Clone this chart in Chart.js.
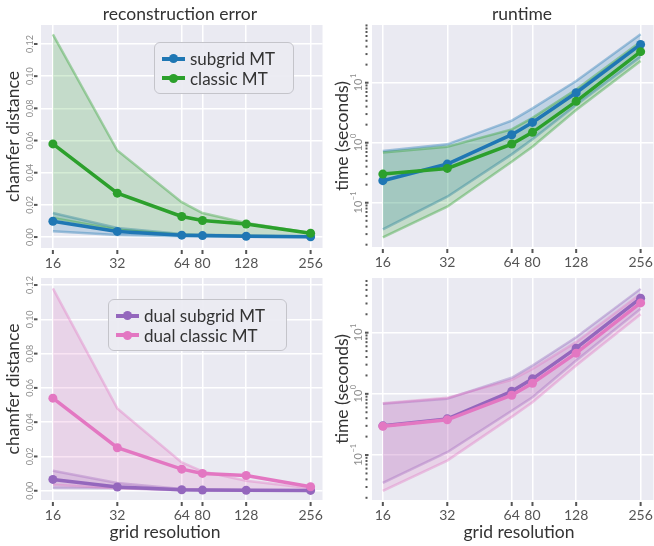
<!DOCTYPE html>
<html lang="en">
<head>
  <meta charset="UTF-8">
  <title>Subgrid vs classic MT</title>
  <script src="https://cdn.jsdelivr.net/npm/chart.js"></script>
  <style>
    body { margin: 0; background: #fff; font-family: Lato, sans-serif; }
    #fig { position: relative; width: 654px; height: 546px; overflow: hidden; }
    canvas { position: absolute; }
    .title { position: absolute; font-size: 17.5px; color: #333; transform: translate(-50%, -50%); white-space: nowrap; }
    .xlabel { position: absolute; font-size: 17.5px; color: #333; transform: translate(-50%, -50%); white-space: nowrap; }
    .legend { position: absolute; box-sizing: border-box; border: 1.5px solid #c4c4ca; border-radius: 6px;
              background: rgba(234, 234, 242, 0.92); padding: 6px 0 0 7px; }
    .legend .row { display: flex; align-items: center; height: 19.5px; font-size: 17px; color: #333; white-space: nowrap; }
    .legend .key { position: relative; width: 23px; height: 4px; margin-right: 5px; flex: none; }
    .legend .key span { position: absolute; left: 7px; top: -2.5px; width: 9px; height: 9px; border-radius: 50%; background: inherit; }
  </style>
</head>
<body>
  <div id="fig">
    <canvas id="tl" width="330" height="270" style="left:0;top:0"></canvas>
    <canvas id="tr" width="330" height="270" style="left:330px;top:0"></canvas>
    <canvas id="bl" width="330" height="276" style="left:0;top:270px"></canvas>
    <canvas id="br" width="330" height="276" style="left:330px;top:270px"></canvas>
    <div class="title" style="left:180px;top:13px">reconstruction error</div>
    <div class="title" style="left:522px;top:13px">runtime</div>
    <div class="xlabel" style="left:165px;top:531px">grid resolution</div>
    <div class="xlabel" style="left:519px;top:531px">grid resolution</div>
    <div class="legend" id="legTop" style="left:154px;top:42px;width:140px;height:52px"></div>
    <div class="legend" id="legBot" style="left:108px;top:299px;width:179px;height:52px"></div>
  </div>

  <script>
    const resolutions = [16, 32, 64, 80, 128, 256];

    // chamfer distance, top row
    const subgridErr   = [0.0098, 0.0035, 0.0012, 0.0009, 0.0005, 0.0002];
    const subgridErrHi = [0.0150, 0.0056, 0.0019, 0.0014, 0.0009, 0.0004];
    const subgridErrLo = [0.0036, 0.0013, 0.0005, 0.0004, 0.0002, 0.0001];
    const classicErr   = [0.0579, 0.0273, 0.0128, 0.0103, 0.0081, 0.0024];
    const classicErrHi = [0.1260, 0.0538, 0.0217, 0.0149, 0.0087, 0.0025];
    const classicErrLo = [0.0118, 0.0045, 0.0014, 0.0010, 0.0007, 0.0003];

    // runtime in seconds, top row
    const subgridTime   = [0.233, 0.441, 1.36, 2.18, 6.81, 43.5];
    const subgridTimeHi = [0.726, 0.94, 2.33, 3.73, 10.7, 63.9];
    const subgridTimeLo = [0.036, 0.126, 0.64, 1.14, 4.24, 27.1];
    const classicTime   = [0.300, 0.373, 0.95, 1.49, 4.89, 32.9];
    const classicTimeHi = [0.690, 0.86, 1.67, 2.6, 7.7, 48];
    const classicTimeLo = [0.0264, 0.0858, 0.48, 0.86, 3.5, 23];

    // chamfer distance, bottom row
    const dualSubgridErr   = [0.0066, 0.0022, 0.0006, 0.0004, 0.0003, 0.0002];
    const dualSubgridErrHi = [0.0117, 0.0045, 0.0010, 0.0007, 0.0005, 0.0003];
    const dualSubgridErrLo = [0.0017, 0.0014, 0.0003, 0.0002, 0.0001, 0.0001];
    const dualClassicErr   = [0.0540, 0.0251, 0.0126, 0.0101, 0.0089, 0.0023];
    const dualClassicErrHi = [0.1180, 0.0480, 0.0165, 0.0113, 0.0058, 0.0014];
    const dualClassicErrLo = [0.0035, 0.0015, 0.0006, 0.0004, 0.0003, 0.0002];

    // runtime in seconds, bottom row
    const dualSubgridTime   = [0.300, 0.390, 1.10, 1.76, 5.58, 36.6];
    const dualSubgridTimeHi = [0.687, 0.83, 1.83, 2.9, 8.4, 52];
    const dualSubgridTimeLo = [0.035, 0.111, 0.53, 0.88, 3.5, 24.5];
    const dualClassicTime   = [0.296, 0.376, 0.95, 1.49, 4.62, 30.7];
    const dualClassicTimeHi = [0.700, 0.86, 1.69, 2.56, 7.0, 43];
    const dualClassicTimeLo = [0.026, 0.081, 0.42, 0.73, 2.9, 20];

    const errTicks = [0, 0.02, 0.04, 0.06, 0.08, 0.10, 0.12];
    const timeTicks = [0.1, 1, 10];
    const minorSteps = [2, 3, 4, 5, 6, 7, 8, 9];

    const BLUE = '#1f77b4', GREEN = '#2ca02c', PURPLE = '#9467bd', PINK = '#e377c2';

    function rgba(hex, a) {
      const n = parseInt(hex.slice(1), 16);
      return `rgba(${n >> 16},${(n >> 8) & 255},${n & 255},${a})`;
    }
    const pts = arr => resolutions.map((x, i) => ({ x, y: arr[i] }));

    function band(color, hi, lo, order) {
      const edge = { borderColor: rgba(color, 0.38), borderWidth: 2.5, pointRadius: 0, order };
      return [
        Object.assign({ data: pts(hi), fill: '+1', backgroundColor: rgba(color, 0.2) }, edge),
        Object.assign({ data: pts(lo), fill: false }, edge)
      ];
    }
    function mean(color, arr, order) {
      return { data: pts(arr), borderColor: color, backgroundColor: color, borderWidth: 3.5,
               pointRadius: 4.5, pointBorderWidth: 0, pointBackgroundColor: color, fill: false, order };
    }

    const bgPlugin = {
      id: 'bg',
      beforeDraw(chart) {
        const { ctx, chartArea: a } = chart;
        ctx.save();
        ctx.fillStyle = '#eaeaf2';
        ctx.fillRect(a.left, a.top, a.right - a.left, a.bottom - a.top);
        ctx.restore();
      }
    };

    // small tick marks and rotated y labels
    const tickPlugin = {
      id: 'ticks',
      afterDraw(chart) {
        const { ctx, chartArea: a, scales } = chart;
        const xs = scales.x, ys = scales.y;
        const isLog = ys.type === 'logarithmic';
        ctx.save();
        ctx.fillStyle = '#555';
        resolutions.forEach(v => {
          const px = xs.getPixelForValue(v);
          ctx.fillRect(px - 1, a.bottom + 2, 2, 4);
        });
        ys.ticks.forEach(t => {
          const py = ys.getPixelForValue(t.value);
          ctx.fillRect(a.left - 7, py - 1, 3.5, 2);
        });
        if (isLog) {
          for (let e = -2; e <= 2; e++) {
            minorSteps.forEach(m => {
              const v = m * Math.pow(10, e);
              if (v < ys.min || v > ys.max) return;
              const py = ys.getPixelForValue(v);
              ctx.fillRect(a.left - 6.5, py - 1, 2, 2);
            });
          }
        }
        ctx.fillStyle = '#8c8c8c';
        ctx.textBaseline = 'middle';
        ys.ticks.forEach(t => {
          const py = ys.getPixelForValue(t.value);
          ctx.save();
          if (isLog) {
            ctx.translate(a.left - 15, py);
            ctx.rotate(-Math.PI / 2);
            const exp = String(Math.round(Math.log10(t.value))).replace('-', '\u2212');
            ctx.font = '11px Lato';
            const w1 = ctx.measureText('10').width;
            ctx.font = '7.5px Lato';
            const w2 = ctx.measureText(exp).width;
            const x0 = -(w1 + w2) / 2;
            ctx.font = '11px Lato';
            ctx.textAlign = 'left';
            ctx.fillText('10', x0, 1);
            ctx.font = '7.5px Lato';
            ctx.fillText(exp, x0 + w1 + 0.5, -3.5);
          } else {
            ctx.translate(a.left - 11, py);
            ctx.rotate(-Math.PI / 2);
            ctx.font = '9px Lato';
            ctx.textAlign = 'center';
            ctx.fillText(t.value.toFixed(2), 0, 0);
          }
          ctx.restore();
        });
        ctx.restore();
      }
    };

    function panel(id, p) {
      new Chart(document.getElementById(id), {
        type: 'line',
        data: { datasets: p.datasets },
        options: {
          responsive: false,
          animation: false,
          layout: { padding: { top: p.top, right: p.right, left: 0, bottom: 0 } },
          plugins: { legend: { display: false }, tooltip: { enabled: false } },
          scales: {
            x: {
              type: 'logarithmic', min: p.xmin, max: p.xmax,
              afterBuildTicks: s => { s.ticks = resolutions.map(v => ({ value: v })); },
              afterFit: s => { s.height = p.xh; },
              grid: { color: '#ffffff', lineWidth: 1.5, drawTicks: false },
              border: { display: false },
              ticks: { callback: v => String(v), color: '#555', font: { family: 'Lato', size: 14 },
                       padding: 7, maxRotation: 0, minRotation: 0, autoSkip: false }
            },
            y: {
              type: p.log ? 'logarithmic' : 'linear', min: p.ymin, max: p.ymax,
              afterBuildTicks: s => { s.ticks = (p.log ? timeTicks : errTicks).map(v => ({ value: v })); },
              afterFit: s => { s.width = p.yw; },
              grid: { color: '#ffffff', lineWidth: 1.5, drawTicks: false },
              border: { display: false },
              ticks: { display: false },
              title: { display: true, text: p.ytitle, color: '#333',
                       font: { family: 'Lato', size: 17.5 }, padding: { top: p.ytpad, bottom: 0 } }
            }
          }
        },
        plugins: [bgPlugin, tickPlugin]
      });
    }

    panel('tl', {
      datasets: [...band(BLUE, subgridErrHi, subgridErrLo, 4), ...band(GREEN, classicErrHi, classicErrLo, 3),
                 mean(BLUE, subgridErr, 2), mean(GREEN, classicErr, 1)],
      top: 25, right: 5, xh: 22, yw: 41, ytpad: 3,
      xmin: 14.08, xmax: 291, ymin: -0.0068, ymax: 0.1318, ytitle: 'chamfer distance'
    });
    panel('tr', {
      datasets: [...band(BLUE, subgridTimeHi, subgridTimeLo, 4), ...band(GREEN, classicTimeHi, classicTimeLo, 3),
                 mean(BLUE, subgridTime, 2), mean(GREEN, classicTime, 1)],
      top: 25, right: 3, xh: 23, yw: 42, ytpad: 1.5, log: true,
      xmin: 14.24, xmax: 294, ymin: 0.0183, ymax: 91.5, ytitle: 'time (seconds)'
    });
    panel('bl', {
      datasets: [...band(PURPLE, dualSubgridErrHi, dualSubgridErrLo, 4), ...band(PINK, dualClassicErrHi, dualClassicErrLo, 3),
                 mean(PURPLE, dualSubgridErr, 2), mean(PINK, dualClassicErr, 1)],
      top: 8, right: 5, xh: 46, yw: 41, ytpad: 3,
      xmin: 14.08, xmax: 291, ymin: -0.0054, ymax: 0.1241, ytitle: 'chamfer distance'
    });
    panel('br', {
      datasets: [...band(PURPLE, dualSubgridTimeHi, dualSubgridTimeLo, 4), ...band(PINK, dualClassicTimeHi, dualClassicTimeLo, 3),
                 mean(PURPLE, dualSubgridTime, 2), mean(PINK, dualClassicTime, 1)],
      top: 8, right: 3, xh: 46, yw: 42, ytpad: 1.5, log: true,
      xmin: 14.24, xmax: 294, ymin: 0.0184, ymax: 78.3, ytitle: 'time (seconds)'
    });

    function legend(id, names, colors) {
      const box = document.getElementById(id);
      names.forEach((name, i) => {
        const row = document.createElement('div');
        row.className = 'row';
        const key = document.createElement('div');
        key.className = 'key';
        key.style.background = colors[i];
        key.appendChild(document.createElement('span'));
        row.appendChild(key);
        row.appendChild(document.createTextNode(name));
        box.appendChild(row);
      });
    }
    legend('legTop', ['subgrid MT', 'classic MT'], [BLUE, GREEN]);
    legend('legBot', ['dual subgrid MT', 'dual classic MT'], [PURPLE, PINK]);
  </script>
</body>
</html>
